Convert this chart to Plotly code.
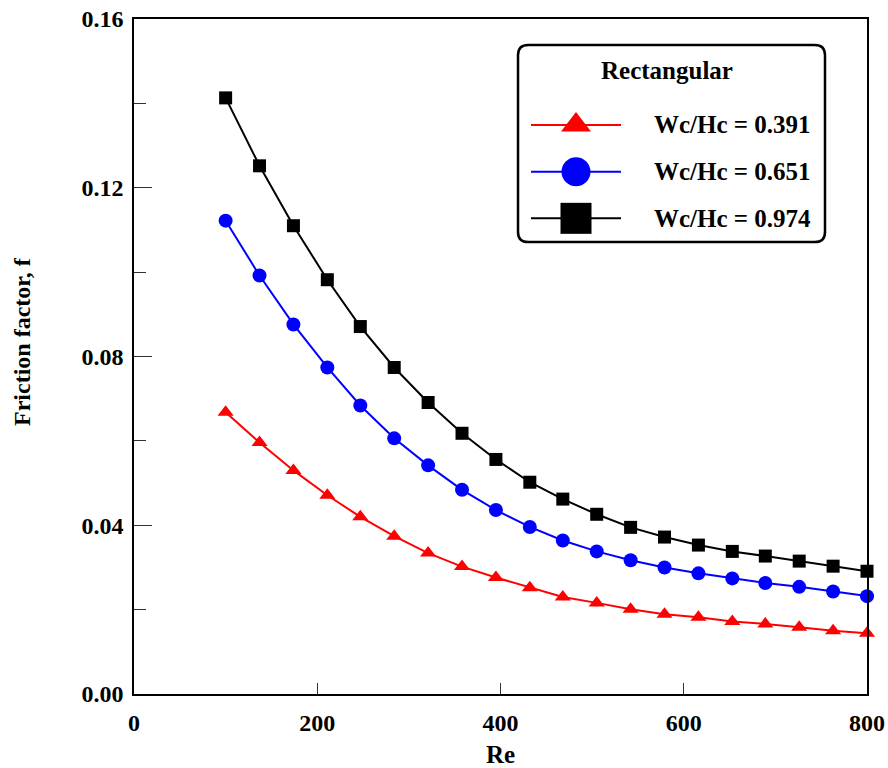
import plotly.graph_objects as go

# ---------------- data ----------------
re_values = [100, 137, 174, 211, 247, 284, 321, 358, 395, 432,
             468, 505, 542, 579, 616, 653, 689, 726, 763, 800]

f_391 = [0.0668, 0.0596, 0.0530, 0.0471, 0.0420, 0.0374, 0.0334, 0.0302, 0.0276, 0.0252,
         0.0230, 0.0216, 0.0201, 0.0189, 0.0182, 0.0172, 0.0166, 0.0158, 0.0150, 0.0144]
f_651 = [0.1122, 0.0992, 0.0876, 0.0774, 0.0684, 0.0606, 0.0542, 0.0484, 0.0436, 0.0396,
         0.0364, 0.0338, 0.0317, 0.0300, 0.0286, 0.0274, 0.0263, 0.0254, 0.0243, 0.0232]
f_974 = [0.1413, 0.1252, 0.1110, 0.0982, 0.0871, 0.0774, 0.0691, 0.0618, 0.0556, 0.0502,
         0.0462, 0.0426, 0.0395, 0.0372, 0.0353, 0.0338, 0.0327, 0.0315, 0.0303, 0.0291]

series_names = ["Wc/Hc = 0.391", "Wc/Hc = 0.651", "Wc/Hc = 0.974"]
series_colors = ["#ff0000", "#0000ff", "#000000"]
series_symbols = ["triangle-up", "circle", "square"]
legend_title = "Rectangular"

x_ticks = [0, 200, 400, 600, 800]
y_ticks = [0.00, 0.04, 0.08, 0.12, 0.16]
y_tick_labels = ["0.00", "0.04", "0.08", "0.12", "0.16"]

FONT = "Liberation Serif, Times New Roman, serif"

fig = go.Figure()
for vals, name, col, sym in zip([f_391, f_651, f_974], series_names, series_colors, series_symbols):
    fig.add_trace(go.Scatter(
        x=re_values, y=vals, mode="lines+markers", name=name,
        line=dict(color=col, width=2),
        marker=dict(symbol=sym, size=14 if sym != "square" else 13, color=col,
                    opacity=1, line=dict(width=0)),
        showlegend=False, cliponaxis=False,
    ))

# ---- manual legend (samples on an overlay axis spanning the plot area) ----
L0, L1, LM = 0.5416, 0.6644, 0.6030
rows = [0.8430, 0.7738, 0.7047]
leg_sizes = [26, 29, 31]
for i, (name, col, sym) in enumerate(zip(series_names, series_colors, series_symbols)):
    fig.add_trace(go.Scatter(
        x=[L0, LM, L1], y=[rows[i]] * 3, xaxis="x2", yaxis="y2",
        mode="lines+markers", line=dict(color=col, width=2),
        marker=dict(symbol=sym, size=[0, leg_sizes[i], 0], color=col,
                    opacity=1, line=dict(width=0)),
        showlegend=False, hoverinfo="skip",
    ))
    fig.add_annotation(x=0.7063, y=rows[i], xref="paper", yref="paper", text=name,
                       showarrow=False, xanchor="left", yanchor="middle",
                       font=dict(family=FONT, size=25, color="black", weight="bold"))

fig.add_annotation(x=0.7267, y=0.9244, xref="paper", yref="paper", text=legend_title,
                   showarrow=False, xanchor="center", yanchor="middle",
                   font=dict(family=FONT, size=25, color="black", weight="bold"))

# rounded legend box
x0, x1, y0, y1 = 0.5239, 0.9427, 0.6696, 0.9615
rx, ry = 0.014, 0.015
path = (f"M {x0+rx},{y0} L {x1-rx},{y0} Q {x1},{y0} {x1},{y0+ry} "
        f"L {x1},{y1-ry} Q {x1},{y1} {x1-rx},{y1} L {x0+rx},{y1} "
        f"Q {x0},{y1} {x0},{y1-ry} L {x0},{y0+ry} Q {x0},{y0} {x0+rx},{y0} Z")
fig.add_shape(type="path", path=path, xref="paper", yref="paper",
              line=dict(color="black", width=2.5), fillcolor="rgba(0,0,0,0)")

# axis titles
fig.add_annotation(x=0.5, y=-0.0889, xref="paper", yref="paper", text="Re",
                   showarrow=False, xanchor="center", yanchor="middle",
                   font=dict(family=FONT, size=25, color="black", weight="bold"))
fig.add_annotation(x=-0.1528, y=0.523, xref="paper", yref="paper", text="Friction factor, f",
                   showarrow=False, xanchor="center", yanchor="middle", textangle=-90,
                   font=dict(family=FONT, size=24, color="black", weight="bold"))

tick_font = dict(family=FONT, size=24, color="black", weight="bold")
fig.update_layout(
    width=888, height=768,
    margin=dict(l=134, r=21, t=19, b=74, autoexpand=False),
    paper_bgcolor="white", plot_bgcolor="white",
    showlegend=False,
    xaxis=dict(range=[0, 800], tickvals=x_ticks, ticktext=[str(v) for v in x_ticks],
               ticks="inside", ticklen=11, tickwidth=1, tickcolor="#333",
               showline=True, linecolor="black", linewidth=1.5, mirror=True,
               showgrid=False, zeroline=False, tickfont=tick_font, ticklabelstandoff=6,
               automargin=False),
    yaxis=dict(range=[0, 0.16], tickvals=y_ticks, ticktext=y_tick_labels,
               ticks="inside", ticklen=18, tickwidth=1, tickcolor="#333",
               minor=dict(tickvals=[0.02, 0.06, 0.10, 0.14], ticks="inside", ticklen=12,
                          tickwidth=1, tickcolor="#333", showgrid=False),
               showline=True, linecolor="black", linewidth=1.5, mirror=True,
               showgrid=False, zeroline=False, tickfont=tick_font, ticklabelstandoff=4,
               automargin=False),
    xaxis2=dict(domain=[0, 1], range=[0, 1], overlaying="x", visible=False, fixedrange=True,
                automargin=False),
    yaxis2=dict(domain=[0, 1], range=[0, 1], overlaying="y", anchor="x2", visible=False,
                fixedrange=True, automargin=False),
)

fig.write_html("out.html", config={"displayModeBar": False},
               post_script="document.body.style.margin='0';")
